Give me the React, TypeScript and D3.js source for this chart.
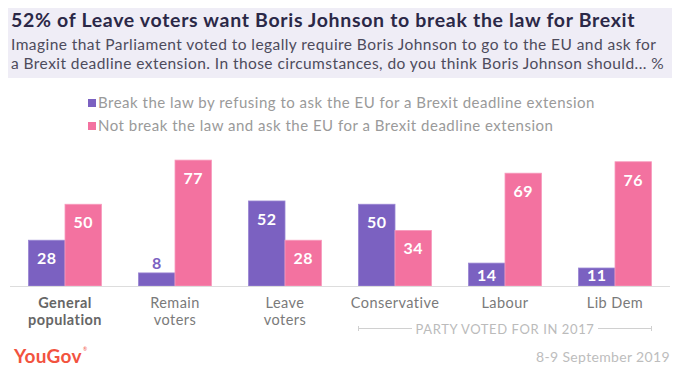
import React from "react";
import * as d3 from "d3";

const categories = ["General population", "Remain voters", "Leave voters", "Conservative", "Labour", "Lib Dem"];
const categoryLines = [["General", "population"], ["Remain", "voters"], ["Leave", "voters"], ["Conservative"], ["Labour"], ["Lib Dem"]];
const breakLaw = [28, 8, 52, 50, 14, 11];
const notBreakLaw = [50, 77, 28, 34, 69, 76];
const seriesNames = [
  "Break the law by refusing to ask the EU for a Brexit deadline extension",
  "Not break the law and ask the EU for a Brexit deadline extension",
];
const title = "52% of Leave voters want Boris Johnson to break the law for Brexit";
const subtitle = [
  "Imagine that Parliament voted to legally require Boris Johnson to go to the EU and ask for",
  "a Brexit deadline extension. In those circumstances, do you think Boris Johnson should... %",
];

const W = 680;
const H = 378;
const PURPLE = "#7b61c1";
const PINK = "#f372a0";
const FONT = "Lato, 'Open Sans', sans-serif";

export default function App() {
  const x = d3.scaleBand<string>().domain(categories).range([10, 670]);
  const y = d3.scaleLinear().domain([0, 100]).range([286, 122.5]);
  const barW = 36.5;
  const series = [
    { name: seriesNames[0], values: breakLaw, color: PURPLE, stroke: "#9a86d3" },
    { name: seriesNames[1], values: notBreakLaw, color: PINK, stroke: "#f79bbd" },
  ];
  const base = y(0);

  return (
    <div style={{ margin: -8, width: W, height: H }}>
      <svg width={W} height={H} style={{ display: "block", fontFamily: FONT }}>
        <rect x={0} y={0} width={W} height={H} fill="#ffffff" />
        <rect x={0} y={0} width={W} height={78} fill="#efedf6" />
        <text x={11} y={27} fontSize={19.5} fontWeight={700} fill="#2b2847" letterSpacing={0.68}>{title}</text>
        {subtitle.map((s, i) => (
          <text key={i} x={11} y={50 + i * 18.5} fontSize={15.5} fill="#4d4b5c" letterSpacing={0.44}>{s}</text>
        ))}
        {series.map((s, i) => (
          <g key={s.name}>
            <rect x={88} y={99 + i * 23} width={8} height={8} fill={s.color} />
            <text x={98} y={107.5 + i * 23} fontSize={15} fill="#9a9a9a" letterSpacing={0.5}>{s.name}</text>
          </g>
        ))}
        {categories.map((c, ci) => {
          const cx = (x(c) as number) + x.bandwidth() / 2;
          return (
            <g key={c}>
              {series.map((s, si) => {
                const v = s.values[ci];
                const top = y(v);
                const bx = cx - barW + si * barW;
                const h = base - top;
                const inside = h > 16;
                const ly = inside ? Math.min(top + 24, base - 5) : top - 4;
                return (
                  <g key={si}>
                    <rect x={bx} y={top} width={barW} height={h} fill={s.color} stroke={s.stroke} strokeWidth={0.8} />
                    <text x={bx + barW / 2} y={ly} textAnchor="middle" fontSize={16} fontWeight={700}
                      fill={inside ? "#ffffff" : s.color} letterSpacing={0.4}>{v}</text>
                  </g>
                );
              })}
              {categoryLines[ci].map((l, li) => (
                <text key={li} x={cx} y={308 + li * 16.5} textAnchor="middle" fontSize={14.5}
                  fontWeight={ci === 0 ? 700 : 400} fill={ci === 0 ? "#666666" : "#7a7a7a"} letterSpacing={0.45}>{l}</text>
              ))}
            </g>
          );
        })}
        <line x1={10} x2={670} y1={base + 0.5} y2={base + 0.5} stroke="#dddddd" strokeWidth={1.2} />
        {(() => {
          const x0 = (x("Conservative") as number) + x.bandwidth() / 2 - barW;
          const x1 = (x("Lib Dem") as number) + x.bandwidth() / 2 + barW;
          const mid = (x0 + x1) / 2;
          const half = 89;
          return (
            <g stroke="#d0d0d0" strokeWidth={1}>
              <line x1={x0} x2={mid - half - 4} y1={328.5} y2={328.5} />
              <line x1={mid + half + 4} x2={x1} y1={328.5} y2={328.5} />
              <line x1={x0} x2={x0} y1={326} y2={331} />
              <line x1={x1} x2={x1} y1={326} y2={331} />
              <text x={mid} y={333.5} textAnchor="middle" fontSize={13} fill="#bbbbbb" stroke="none" letterSpacing={0.6}>
                PARTY VOTED FOR IN 2017
              </text>
            </g>
          );
        })()}
        <text x={14} y={363} fontSize={19} fontWeight={700} fill="#f2533f" letterSpacing={0.3}>YouGov</text>
        <text x={83} y={351} fontSize={5} fill="#f2533f">®</text>
        <text x={670} y={362} textAnchor="end" fontSize={14} fill="#bdbdbd" letterSpacing={0.35}>8-9 September 2019</text>
      </svg>
    </div>
  );
}
